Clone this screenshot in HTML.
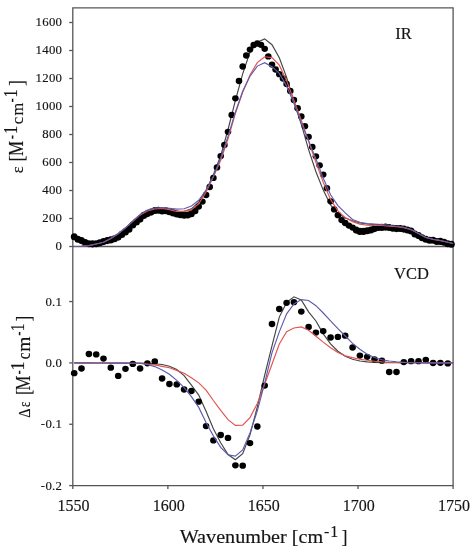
<!DOCTYPE html>
<html><head><meta charset="utf-8"><style>
html,body{margin:0;padding:0;background:#fff;width:473px;height:550px;overflow:hidden}
svg{display:block}
#w{width:473px;height:550px;will-change:transform}
text{font-family:"Liberation Serif",serif;fill:#141414;stroke:#141414;stroke-width:0.15px}
</style></head><body><div id="w">
<svg width="473" height="550" viewBox="0 0 473 550">

<g fill="none" stroke="#555" stroke-width="1.3">
<path d="M72.8,7.8 H453.1 V485.6 H72.8 Z"/>
<path d="M72.8,246.5 H453.1"/>
<path d="M69.2,246.50 H72.8"/>
<path d="M69.2,218.50 H72.8"/>
<path d="M69.2,190.50 H72.8"/>
<path d="M69.2,162.50 H72.8"/>
<path d="M69.2,134.50 H72.8"/>
<path d="M69.2,106.50 H72.8"/>
<path d="M69.2,78.50 H72.8"/>
<path d="M69.2,50.50 H72.8"/>
<path d="M69.2,22.50 H72.8"/>
<path d="M69.2,301.55 H72.8"/>
<path d="M69.2,362.90 H72.8"/>
<path d="M69.2,424.25 H72.8"/>
<path d="M69.2,485.60 H72.8"/>
<path d="M72.80,485.6 V489"/>
<path d="M167.88,485.6 V489"/>
<path d="M262.95,485.6 V489"/>
<path d="M358.03,485.6 V489"/>
<path d="M453.10,485.6 V489"/>
</g>
<g font-size="12.8" text-anchor="end" letter-spacing="0.3">
<text x="62.3" y="249.8">0</text>
<text x="62.3" y="221.8">200</text>
<text x="62.3" y="193.8">400</text>
<text x="62.3" y="165.8">600</text>
<text x="62.3" y="137.8">800</text>
<text x="62.3" y="109.8">1000</text>
<text x="62.3" y="81.8">1200</text>
<text x="62.3" y="53.8">1400</text>
<text x="62.3" y="25.8">1600</text>
<text x="62.3" y="305.5">0.1</text>
<text x="62.3" y="366.9">0.0</text>
<text x="62.3" y="428.2">-0.1</text>
<text x="62.3" y="489.6">-0.2</text>
</g>
<g font-size="16" text-anchor="middle">
<text x="73.6" y="511">1550</text>
<text x="168.7" y="511">1600</text>
<text x="263.8" y="511">1650</text>
<text x="358.8" y="511">1700</text>
<text x="453.9" y="511">1750</text>
</g>
<text x="395.3" y="39.2" font-size="16.5">IR</text>
<text x="394" y="279.3" font-size="16.5">VCD</text>
<text transform="translate(23.40,173.16) rotate(-90) scale(1.036,1)" font-size="16">ε</text>
<text transform="translate(23.40,161.77) rotate(-90) scale(0.977,1)" font-size="20">[</text>
<text transform="translate(23.40,156.01) rotate(-90) scale(0.849,1)" font-size="20">M</text>
<text transform="translate(17.20,139.16) rotate(-90) scale(0.800,1)" font-size="16">-</text>
<text transform="translate(17.20,134.07) rotate(-90) scale(0.835,1)" font-size="19.5">1</text>
<text transform="translate(23.40,124.27) rotate(-90) scale(0.960,1)" font-size="17.5">c</text>
<text transform="translate(23.40,115.53) rotate(-90) scale(0.934,1)" font-size="17.5">m</text>
<text transform="translate(17.20,102.56) rotate(-90) scale(0.800,1)" font-size="16">-</text>
<text transform="translate(17.20,97.47) rotate(-90) scale(0.835,1)" font-size="19.5">1</text>
<text transform="translate(23.40,85.86) rotate(-90) scale(0.800,1)" font-size="20">]</text>
<text transform="translate(29.70,417.77) rotate(-90) scale(0.869,1)" font-size="16.5">Δ</text>
<text transform="translate(29.70,407.11) rotate(-90) scale(0.804,1)" font-size="16">ε</text>
<text transform="translate(29.70,394.96) rotate(-90) scale(0.800,1)" font-size="20">[</text>
<text transform="translate(29.70,390.50) rotate(-90) scale(0.817,1)" font-size="20.5">M</text>
<text transform="translate(23.50,374.56) rotate(-90) scale(0.800,1)" font-size="16">-</text>
<text transform="translate(23.50,370.45) rotate(-90) scale(0.938,1)" font-size="19.5">1</text>
<text transform="translate(29.70,359.31) rotate(-90) scale(0.800,1)" font-size="19">c</text>
<text transform="translate(29.70,351.79) rotate(-90) scale(1.024,1)" font-size="19">m</text>
<text transform="translate(23.50,335.76) rotate(-90) scale(0.800,1)" font-size="16">-</text>
<text transform="translate(23.50,331.13) rotate(-90) scale(0.800,1)" font-size="19.5">1</text>
<text transform="translate(29.70,321.26) rotate(-90) scale(0.800,1)" font-size="20">]</text>
<text x="179.7" y="543" font-size="18" textLength="143.4" lengthAdjust="spacingAndGlyphs">Wavenumber [cm</text>
<text x="323.9" y="536.9" font-size="16">-</text>
<text x="330.3" y="536.9" font-size="16">1</text>
<text x="341.6" y="543" font-size="18">]</text>
<g fill="none" stroke-width="1.15" stroke-linejoin="miter">
<path d="M74.20,246.50 L81.53,246.20 L88.85,245.60 L96.18,244.00 L103.50,242.30 L110.83,238.80 L118.15,234.20 L125.47,228.50 L132.80,222.00 L140.12,215.50 L147.45,211.60 L154.78,209.60 L162.10,209.00 L169.43,210.00 L176.75,211.30 L184.07,211.20 L191.40,208.90 L198.73,202.30 L206.05,190.70 L213.38,174.60 L220.70,155.80 L228.03,129.50 L235.35,100.70 L242.68,73.80 L250.00,52.10 L257.32,42.10 L264.65,38.90 L271.98,44.70 L279.30,57.80 L286.62,77.40 L293.95,101.60 L301.28,124.20 L308.60,149.60 L315.93,171.70 L323.25,190.10 L330.57,205.00 L337.90,213.60 L345.23,218.10 L352.55,220.80 L359.88,223.00 L367.20,224.00 L374.52,224.60 L381.85,224.90 L389.18,225.50 L396.50,226.40 L403.82,227.40 L411.15,229.60 L418.48,233.60 L425.80,237.50 L433.12,239.40 L440.45,240.60 L447.77,242.30 L453.10,243.54" stroke="#444444"/>
<path d="M74.20,362.90 L81.53,362.90 L88.85,362.90 L96.18,363.00 L103.50,363.00 L110.83,363.00 L118.15,363.00 L125.47,363.10 L132.80,363.10 L140.12,363.10 L147.45,363.40 L154.78,363.70 L162.10,364.50 L169.43,366.30 L176.75,369.50 L184.07,375.60 L191.40,385.20 L198.73,395.10 L206.05,411.20 L213.38,428.80 L220.70,442.70 L228.03,454.50 L235.35,459.80 L242.68,453.60 L250.00,434.90 L257.32,406.90 L264.65,375.40 L271.98,345.80 L279.30,317.10 L286.62,302.40 L293.95,296.80 L301.28,300.00 L308.60,311.80 L315.93,321.00 L323.25,333.90 L330.57,343.80 L337.90,351.20 L345.23,356.20 L352.55,359.30 L359.88,361.00 L367.20,361.90 L374.52,362.40 L381.85,362.70 L389.18,362.70 L396.50,362.80 L403.82,362.90 L411.15,362.70 L418.48,362.80 L425.80,362.80 L433.12,362.80 L440.45,362.90 L447.77,362.90 L453.10,362.90" stroke="#444444"/>
</g>
<g fill="#000">
<ellipse cx="74.2" cy="236.7" rx="3.4" ry="3.55"/>
<ellipse cx="77.9" cy="239.2" rx="3.4" ry="3.55"/>
<ellipse cx="81.5" cy="240.6" rx="3.4" ry="3.55"/>
<ellipse cx="85.2" cy="242.5" rx="3.4" ry="3.55"/>
<ellipse cx="88.9" cy="243.8" rx="3.4" ry="3.55"/>
<ellipse cx="92.5" cy="243.9" rx="3.4" ry="3.55"/>
<ellipse cx="96.2" cy="243.7" rx="3.4" ry="3.55"/>
<ellipse cx="99.8" cy="242.8" rx="3.4" ry="3.55"/>
<ellipse cx="103.5" cy="241.6" rx="3.4" ry="3.55"/>
<ellipse cx="107.2" cy="240.6" rx="3.4" ry="3.55"/>
<ellipse cx="110.8" cy="239.9" rx="3.4" ry="3.55"/>
<ellipse cx="114.5" cy="238.8" rx="3.4" ry="3.55"/>
<ellipse cx="118.2" cy="237.1" rx="3.4" ry="3.55"/>
<ellipse cx="121.8" cy="234.4" rx="3.4" ry="3.55"/>
<ellipse cx="125.5" cy="231.9" rx="3.4" ry="3.55"/>
<ellipse cx="129.1" cy="229.2" rx="3.4" ry="3.55"/>
<ellipse cx="132.8" cy="225.0" rx="3.4" ry="3.55"/>
<ellipse cx="136.5" cy="221.9" rx="3.4" ry="3.55"/>
<ellipse cx="140.1" cy="219.1" rx="3.4" ry="3.55"/>
<ellipse cx="143.8" cy="215.4" rx="3.4" ry="3.55"/>
<ellipse cx="147.4" cy="213.6" rx="3.4" ry="3.55"/>
<ellipse cx="151.1" cy="212.1" rx="3.4" ry="3.55"/>
<ellipse cx="154.8" cy="210.5" rx="3.4" ry="3.55"/>
<ellipse cx="158.4" cy="210.2" rx="3.4" ry="3.55"/>
<ellipse cx="162.1" cy="211.0" rx="3.4" ry="3.55"/>
<ellipse cx="165.8" cy="210.7" rx="3.4" ry="3.55"/>
<ellipse cx="169.4" cy="211.7" rx="3.4" ry="3.55"/>
<ellipse cx="173.1" cy="212.9" rx="3.4" ry="3.55"/>
<ellipse cx="176.8" cy="214.0" rx="3.4" ry="3.55"/>
<ellipse cx="180.4" cy="214.7" rx="3.4" ry="3.55"/>
<ellipse cx="184.1" cy="215.3" rx="3.4" ry="3.55"/>
<ellipse cx="187.7" cy="215.0" rx="3.4" ry="3.55"/>
<ellipse cx="191.4" cy="213.7" rx="3.4" ry="3.55"/>
<ellipse cx="195.1" cy="210.8" rx="3.4" ry="3.55"/>
<ellipse cx="198.7" cy="206.6" rx="3.3" ry="3.15"/>
<ellipse cx="202.4" cy="201.6" rx="3.3" ry="3.15"/>
<ellipse cx="206.1" cy="195.0" rx="3.3" ry="3.15"/>
<ellipse cx="209.7" cy="187.0" rx="3.3" ry="3.15"/>
<ellipse cx="213.4" cy="177.9" rx="3.3" ry="3.15"/>
<ellipse cx="217.0" cy="167.4" rx="3.3" ry="3.15"/>
<ellipse cx="220.7" cy="156.1" rx="3.3" ry="3.15"/>
<ellipse cx="224.4" cy="145.0" rx="3.3" ry="3.15"/>
<ellipse cx="228.0" cy="131.8" rx="3.3" ry="3.15"/>
<ellipse cx="231.7" cy="114.9" rx="3.3" ry="3.15"/>
<ellipse cx="235.4" cy="98.3" rx="3.3" ry="3.15"/>
<ellipse cx="239.0" cy="81.0" rx="3.3" ry="3.15"/>
<ellipse cx="242.7" cy="66.5" rx="3.3" ry="3.15"/>
<ellipse cx="246.3" cy="55.5" rx="3.3" ry="3.15"/>
<ellipse cx="250.0" cy="49.6" rx="3.3" ry="3.15"/>
<ellipse cx="253.7" cy="45.0" rx="3.3" ry="3.15"/>
<ellipse cx="257.3" cy="43.5" rx="3.3" ry="3.15"/>
<ellipse cx="261.0" cy="44.8" rx="3.3" ry="3.15"/>
<ellipse cx="264.7" cy="48.8" rx="3.3" ry="3.15"/>
<ellipse cx="268.3" cy="56.4" rx="3.3" ry="3.15"/>
<ellipse cx="272.0" cy="64.6" rx="3.3" ry="3.15"/>
<ellipse cx="275.6" cy="69.5" rx="3.3" ry="3.15"/>
<ellipse cx="279.3" cy="74.2" rx="3.3" ry="3.15"/>
<ellipse cx="283.0" cy="78.5" rx="3.3" ry="3.15"/>
<ellipse cx="286.6" cy="84.0" rx="3.3" ry="3.15"/>
<ellipse cx="290.3" cy="91.0" rx="3.3" ry="3.15"/>
<ellipse cx="293.9" cy="100.0" rx="3.3" ry="3.15"/>
<ellipse cx="297.6" cy="108.2" rx="3.3" ry="3.15"/>
<ellipse cx="301.3" cy="116.4" rx="3.3" ry="3.15"/>
<ellipse cx="304.9" cy="126.2" rx="3.3" ry="3.15"/>
<ellipse cx="308.6" cy="136.8" rx="3.3" ry="3.15"/>
<ellipse cx="312.3" cy="147.0" rx="3.3" ry="3.15"/>
<ellipse cx="315.9" cy="156.3" rx="3.3" ry="3.15"/>
<ellipse cx="319.6" cy="165.3" rx="3.3" ry="3.15"/>
<ellipse cx="323.2" cy="174.6" rx="3.3" ry="3.15"/>
<ellipse cx="326.9" cy="188.2" rx="3.3" ry="3.15"/>
<ellipse cx="330.6" cy="201.3" rx="3.3" ry="3.15"/>
<ellipse cx="334.2" cy="209.4" rx="3.3" ry="3.15"/>
<ellipse cx="337.9" cy="215.2" rx="3.3" ry="3.15"/>
<ellipse cx="341.6" cy="220.1" rx="3.3" ry="3.15"/>
<ellipse cx="345.2" cy="223.0" rx="3.3" ry="3.15"/>
<ellipse cx="348.9" cy="225.6" rx="3.3" ry="3.15"/>
<ellipse cx="352.6" cy="227.6" rx="3.3" ry="3.15"/>
<ellipse cx="356.2" cy="230.1" rx="3.4" ry="3.55"/>
<ellipse cx="359.9" cy="231.4" rx="3.4" ry="3.55"/>
<ellipse cx="363.5" cy="231.4" rx="3.4" ry="3.55"/>
<ellipse cx="367.2" cy="230.8" rx="3.4" ry="3.55"/>
<ellipse cx="370.9" cy="230.0" rx="3.4" ry="3.55"/>
<ellipse cx="374.5" cy="228.6" rx="3.4" ry="3.55"/>
<ellipse cx="378.2" cy="227.5" rx="3.4" ry="3.55"/>
<ellipse cx="381.9" cy="227.4" rx="3.4" ry="3.55"/>
<ellipse cx="385.5" cy="227.1" rx="3.4" ry="3.55"/>
<ellipse cx="389.2" cy="227.5" rx="3.4" ry="3.55"/>
<ellipse cx="392.8" cy="228.2" rx="3.4" ry="3.55"/>
<ellipse cx="396.5" cy="228.6" rx="3.4" ry="3.55"/>
<ellipse cx="400.2" cy="228.5" rx="3.4" ry="3.55"/>
<ellipse cx="403.8" cy="229.1" rx="3.4" ry="3.55"/>
<ellipse cx="407.5" cy="230.0" rx="3.4" ry="3.55"/>
<ellipse cx="411.1" cy="231.0" rx="3.4" ry="3.55"/>
<ellipse cx="414.8" cy="234.0" rx="3.4" ry="3.55"/>
<ellipse cx="418.5" cy="235.6" rx="3.4" ry="3.55"/>
<ellipse cx="422.1" cy="237.7" rx="3.4" ry="3.55"/>
<ellipse cx="425.8" cy="239.3" rx="3.4" ry="3.55"/>
<ellipse cx="429.5" cy="240.2" rx="3.4" ry="3.55"/>
<ellipse cx="433.1" cy="240.3" rx="3.4" ry="3.55"/>
<ellipse cx="436.8" cy="241.5" rx="3.4" ry="3.55"/>
<ellipse cx="440.4" cy="241.4" rx="3.4" ry="3.55"/>
<ellipse cx="444.1" cy="242.3" rx="3.4" ry="3.55"/>
<ellipse cx="447.8" cy="243.7" rx="3.4" ry="3.55"/>
<ellipse cx="451.4" cy="244.3" rx="3.4" ry="3.55"/>
<ellipse cx="74.2" cy="373.2" rx="3.3" ry="3.15"/>
<ellipse cx="81.5" cy="368.5" rx="3.3" ry="3.15"/>
<ellipse cx="88.9" cy="354.0" rx="3.3" ry="3.15"/>
<ellipse cx="96.2" cy="354.4" rx="3.3" ry="3.15"/>
<ellipse cx="103.5" cy="358.6" rx="3.3" ry="3.15"/>
<ellipse cx="110.8" cy="367.7" rx="3.3" ry="3.15"/>
<ellipse cx="118.2" cy="375.9" rx="3.3" ry="3.15"/>
<ellipse cx="125.5" cy="368.8" rx="3.3" ry="3.15"/>
<ellipse cx="132.8" cy="363.9" rx="3.3" ry="3.15"/>
<ellipse cx="140.1" cy="368.5" rx="3.3" ry="3.15"/>
<ellipse cx="147.4" cy="363.3" rx="3.3" ry="3.15"/>
<ellipse cx="154.8" cy="361.4" rx="3.3" ry="3.15"/>
<ellipse cx="162.1" cy="378.5" rx="3.3" ry="3.15"/>
<ellipse cx="169.4" cy="384.0" rx="3.3" ry="3.15"/>
<ellipse cx="176.8" cy="384.4" rx="3.3" ry="3.15"/>
<ellipse cx="184.1" cy="389.5" rx="3.3" ry="3.15"/>
<ellipse cx="191.4" cy="391.0" rx="3.3" ry="3.15"/>
<ellipse cx="198.7" cy="401.7" rx="3.3" ry="3.15"/>
<ellipse cx="206.1" cy="426.1" rx="3.3" ry="3.15"/>
<ellipse cx="213.4" cy="440.4" rx="3.3" ry="3.15"/>
<ellipse cx="220.7" cy="435.0" rx="3.3" ry="3.15"/>
<ellipse cx="228.0" cy="437.9" rx="3.3" ry="3.15"/>
<ellipse cx="235.4" cy="465.3" rx="3.3" ry="3.15"/>
<ellipse cx="242.7" cy="465.7" rx="3.3" ry="3.15"/>
<ellipse cx="250.0" cy="443.1" rx="3.3" ry="3.15"/>
<ellipse cx="257.3" cy="426.5" rx="3.3" ry="3.15"/>
<ellipse cx="264.7" cy="385.6" rx="3.3" ry="3.15"/>
<ellipse cx="272.0" cy="324.0" rx="3.3" ry="3.15"/>
<ellipse cx="279.3" cy="309.0" rx="3.3" ry="3.15"/>
<ellipse cx="286.6" cy="302.8" rx="3.3" ry="3.15"/>
<ellipse cx="293.9" cy="302.2" rx="3.3" ry="3.15"/>
<ellipse cx="301.3" cy="311.6" rx="3.3" ry="3.15"/>
<ellipse cx="308.6" cy="326.9" rx="3.3" ry="3.15"/>
<ellipse cx="315.9" cy="332.6" rx="3.3" ry="3.15"/>
<ellipse cx="323.2" cy="331.1" rx="3.3" ry="3.15"/>
<ellipse cx="330.6" cy="337.5" rx="3.3" ry="3.15"/>
<ellipse cx="337.9" cy="336.9" rx="3.3" ry="3.15"/>
<ellipse cx="345.2" cy="335.7" rx="3.3" ry="3.15"/>
<ellipse cx="352.6" cy="347.5" rx="3.3" ry="3.15"/>
<ellipse cx="359.9" cy="355.6" rx="3.3" ry="3.15"/>
<ellipse cx="367.2" cy="356.8" rx="3.3" ry="3.15"/>
<ellipse cx="374.5" cy="359.3" rx="3.3" ry="3.15"/>
<ellipse cx="381.9" cy="360.7" rx="3.3" ry="3.15"/>
<ellipse cx="389.2" cy="372.0" rx="3.3" ry="3.15"/>
<ellipse cx="396.5" cy="372.0" rx="3.3" ry="3.15"/>
<ellipse cx="403.8" cy="362.1" rx="3.3" ry="3.15"/>
<ellipse cx="411.1" cy="361.2" rx="3.3" ry="3.15"/>
<ellipse cx="418.5" cy="361.2" rx="3.3" ry="3.15"/>
<ellipse cx="425.8" cy="359.8" rx="3.3" ry="3.15"/>
<ellipse cx="433.1" cy="363.0" rx="3.3" ry="3.15"/>
<ellipse cx="440.4" cy="362.8" rx="3.3" ry="3.15"/>
<ellipse cx="447.8" cy="363.4" rx="3.3" ry="3.15"/>
</g>
<g fill="none" stroke-width="1.15" stroke-linejoin="miter">
<path d="M74.20,246.50 L81.53,246.20 L88.85,245.60 L96.18,244.00 L103.50,242.30 L110.83,238.60 L118.15,233.70 L125.47,227.90 L132.80,221.30 L140.12,215.00 L147.45,211.00 L154.78,209.00 L162.10,208.40 L169.43,209.60 L176.75,211.50 L184.07,211.40 L191.40,209.60 L198.73,203.80 L206.05,192.10 L213.38,176.80 L220.70,160.30 L228.03,138.80 L235.35,113.60 L242.68,92.20 L250.00,75.00 L257.32,62.60 L264.65,56.80 L271.98,57.60 L279.30,65.20 L286.62,80.60 L293.95,100.40 L301.28,120.30 L308.60,141.30 L315.93,162.20 L323.25,182.40 L330.57,199.40 L337.90,210.80 L345.23,217.60 L352.55,221.60 L359.88,224.10 L367.20,225.20 L374.52,225.40 L381.85,225.50 L389.18,226.30 L396.50,226.60 L403.82,227.60 L411.15,229.70 L418.48,233.60 L425.80,237.50 L433.12,239.40 L440.45,240.60 L447.77,242.30 L453.10,243.54" stroke="#e2534f"/>
<path d="M74.20,362.90 L81.53,362.90 L88.85,363.00 L96.18,363.00 L103.50,363.00 L110.83,363.10 L118.15,363.10 L125.47,363.20 L132.80,363.30 L140.12,363.50 L147.45,364.10 L154.78,364.90 L162.10,366.40 L169.43,367.80 L176.75,370.40 L184.07,373.30 L191.40,377.70 L198.73,382.90 L206.05,390.10 L213.38,400.50 L220.70,410.30 L228.03,419.60 L235.35,425.40 L242.68,425.10 L250.00,417.60 L257.32,403.50 L264.65,384.30 L271.98,364.30 L279.30,344.00 L286.62,331.70 L293.95,328.00 L301.28,326.90 L308.60,330.30 L315.93,336.20 L323.25,342.10 L330.57,347.70 L337.90,352.60 L345.23,355.80 L352.55,357.60 L359.88,359.20 L367.20,360.30 L374.52,361.20 L381.85,361.90 L389.18,362.30 L396.50,362.50 L403.82,362.50 L411.15,362.70 L418.48,362.80 L425.80,362.80 L433.12,362.80 L440.45,362.90 L447.77,362.90 L453.10,362.90" stroke="#e2534f"/>
<path d="M74.20,246.50 L81.53,246.20 L88.85,245.60 L96.18,244.00 L103.50,242.30 L110.83,238.60 L118.15,233.70 L125.47,227.80 L132.80,221.00 L140.12,214.40 L147.45,210.10 L154.78,208.00 L162.10,207.60 L169.43,208.40 L176.75,209.10 L184.07,208.70 L191.40,206.00 L198.73,200.30 L206.05,190.00 L213.38,176.50 L220.70,157.70 L228.03,136.40 L235.35,112.10 L242.68,91.20 L250.00,76.20 L257.32,66.10 L264.65,62.70 L271.98,66.70 L279.30,73.40 L286.62,86.10 L293.95,103.30 L301.28,123.00 L308.60,140.60 L315.93,158.90 L323.25,178.30 L330.57,194.70 L337.90,205.60 L345.23,212.90 L352.55,219.50 L359.88,222.30 L367.20,223.60 L374.52,224.10 L381.85,224.50 L389.18,225.20 L396.50,226.20 L403.82,227.30 L411.15,229.50 L418.48,233.50 L425.80,237.40 L433.12,239.30 L440.45,240.50 L447.77,242.20 L453.10,243.44" stroke="#5c5cad"/>
<path d="M74.20,362.90 L81.53,362.90 L88.85,363.00 L96.18,363.00 L103.50,363.00 L110.83,363.10 L118.15,363.10 L125.47,363.10 L132.80,363.20 L140.12,363.20 L147.45,364.50 L154.78,366.60 L162.10,369.90 L169.43,374.30 L176.75,380.40 L184.07,387.70 L191.40,396.70 L198.73,407.40 L206.05,422.60 L213.38,435.90 L220.70,447.30 L228.03,454.70 L235.35,456.10 L242.68,449.90 L250.00,432.90 L257.32,410.90 L264.65,383.20 L271.98,352.90 L279.30,331.90 L286.62,313.90 L293.95,304.00 L301.28,299.60 L308.60,300.50 L315.93,305.70 L323.25,313.00 L330.57,320.80 L337.90,328.70 L345.23,336.00 L352.55,343.40 L359.88,349.30 L367.20,354.20 L374.52,357.50 L381.85,359.80 L389.18,361.00 L396.50,361.80 L403.82,362.20 L411.15,362.70 L418.48,362.80 L425.80,362.80 L433.12,362.80 L440.45,362.90 L447.77,362.90 L453.10,362.90" stroke="#5c5cad"/>
</g>
</svg></div></body></html>
